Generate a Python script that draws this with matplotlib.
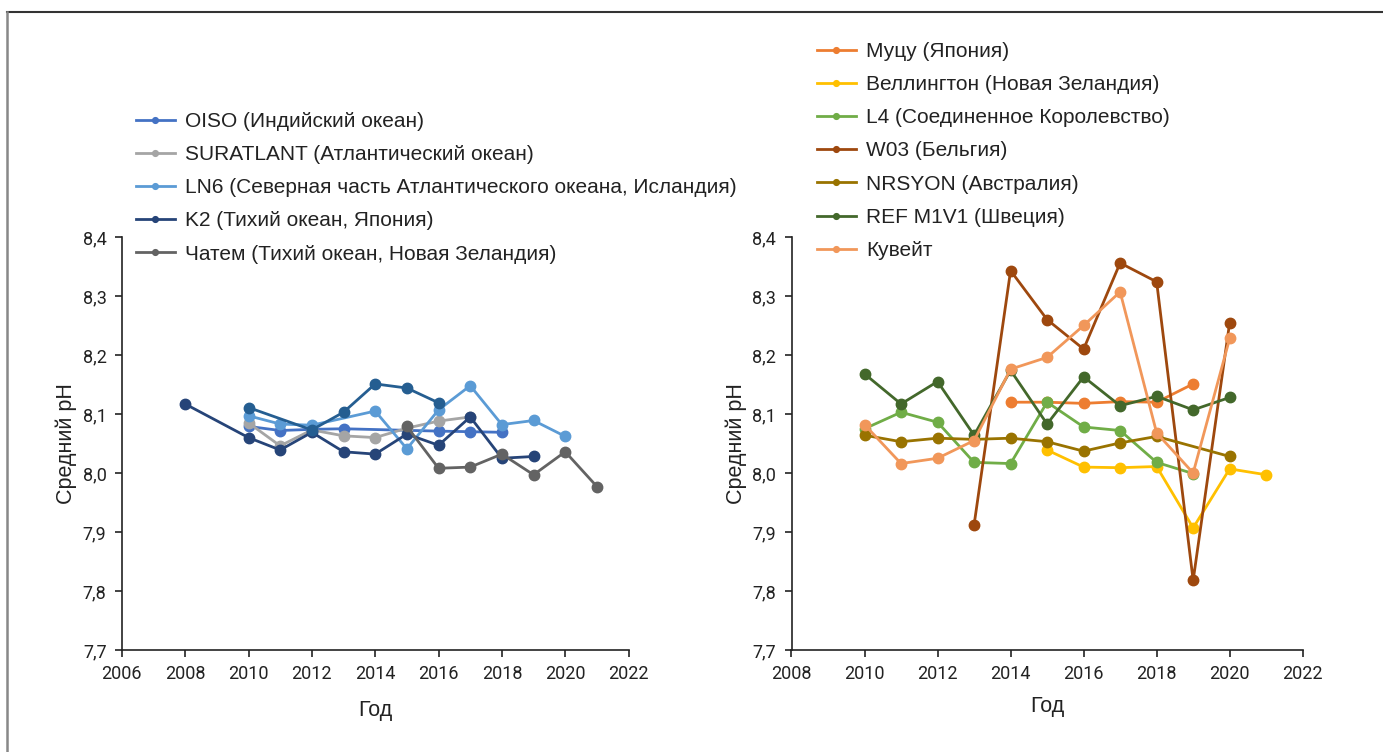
import matplotlib
matplotlib.use('Agg')
import matplotlib.pyplot as plt
from matplotlib import font_manager
from matplotlib.lines import Line2D

# --- данные слева (океанские станции) ---
oiso_years = [2010, 2011, 2012, 2013, 2016, 2017, 2018]
oiso_ph = [8.079, 8.072, 8.074, 8.075, 8.071, 8.070, 8.069]

suratlant_years = [2010, 2011, 2012, 2013, 2014, 2015, 2016, 2017]
suratlant_ph = [8.085, 8.046, 8.073, 8.063, 8.060, 8.076, 8.088, 8.095]

ln6_years = [2010, 2011, 2012, 2014, 2015, 2016, 2017, 2018, 2019, 2020]
ln6_ph = [8.097, 8.083, 8.081, 8.105, 8.041, 8.107, 8.148, 8.082, 8.089, 8.062]

k2_years = [2008, 2010, 2011, 2012, 2013, 2014, 2015, 2016, 2017, 2018, 2019]
k2_ph = [8.117, 8.060, 8.039, 8.069, 8.036, 8.032, 8.066, 8.047, 8.095, 8.025, 8.028]

chatham_years = [2015, 2016, 2017, 2018, 2019, 2020, 2021]
chatham_ph = [8.079, 8.008, 8.010, 8.032, 7.997, 8.036, 7.977]

# ряд без подписи в легенде
extra_years = [2010, 2012, 2013, 2014, 2015, 2016]
extra_ph = [8.111, 8.073, 8.103, 8.151, 8.144, 8.119]

# --- данные справа (прибрежные станции) ---
mutsu_years = [2014, 2015, 2016, 2017, 2018, 2019]
mutsu_ph = [8.120, 8.120, 8.118, 8.121, 8.120, 8.151]

wellington_years = [2015, 2016, 2017, 2018, 2019, 2020, 2021]
wellington_ph = [8.039, 8.010, 8.009, 8.011, 7.907, 8.007, 7.997]

l4_years = [2010, 2011, 2012, 2013, 2014, 2015, 2016, 2017, 2018, 2019]
l4_ph = [8.075, 8.103, 8.086, 8.018, 8.016, 8.120, 8.078, 8.072, 8.018, 7.999]

w03_years = [2013, 2014, 2015, 2016, 2017, 2018, 2019, 2020]
w03_ph = [7.912, 8.343, 8.260, 8.210, 8.356, 8.324, 7.818, 8.255]

nrsyon_years = [2010, 2011, 2012, 2013, 2014, 2015, 2016, 2017, 2018, 2020]
nrsyon_ph = [8.064, 8.053, 8.059, 8.057, 8.059, 8.053, 8.037, 8.051, 8.062, 8.028]

refm1v1_years = [2010, 2011, 2012, 2013, 2014, 2015, 2016, 2017, 2018, 2019, 2020]
refm1v1_ph = [8.168, 8.117, 8.155, 8.064, 8.174, 8.083, 8.163, 8.114, 8.130, 8.107, 8.128]

kuwait_years = [2010, 2011, 2012, 2013, 2014, 2015, 2016, 2017, 2018, 2019, 2020]
kuwait_ph = [8.082, 8.016, 8.025, 8.055, 8.176, 8.196, 8.250, 8.307, 8.068, 8.000, 8.228]

y_ticks = [7.7, 7.8, 7.9, 8.0, 8.1, 8.2, 8.3, 8.4]
y_tick_labels = ['7,7', '7,8', '7,9', '8,0', '8,1', '8,2', '8,3', '8,4']
left_x_ticks = [2006, 2008, 2010, 2012, 2014, 2016, 2018, 2020, 2022]
right_x_ticks = [2008, 2010, 2012, 2014, 2016, 2018, 2020, 2022]

left_series = [
    (oiso_years, oiso_ph, '#4472C4', 'OISO (Индийский океан)'),
    (suratlant_years, suratlant_ph, '#A5A5A5', 'SURATLANT (Атлантический океан)'),
    (ln6_years, ln6_ph, '#5B9BD5', 'LN6 (Северная часть Атлантического океана, Исландия)'),
    (k2_years, k2_ph, '#264478', 'K2 (Тихий океан, Япония)'),
    (chatham_years, chatham_ph, '#636363', 'Чатем (Тихий океан, Новая Зеландия)'),
    (extra_years, extra_ph, '#255E91', None),
]
right_series = [
    (mutsu_years, mutsu_ph, '#ED7D31', 'Муцу (Япония)'),
    (wellington_years, wellington_ph, '#FFC000', 'Веллингтон (Новая Зеландия)'),
    (l4_years, l4_ph, '#70AD47', 'L4 (Соединенное Королевство)'),
    (w03_years, w03_ph, '#9E480E', 'W03 (Бельгия)'),
    (nrsyon_years, nrsyon_ph, '#997300', 'NRSYON (Австралия)'),
    (refm1v1_years, refm1v1_ph, '#43682B', 'REF M1V1 (Швеция)'),
    (kuwait_years, kuwait_ph, '#F1975A', 'Кувейт'),
]

available = {f.name for f in font_manager.fontManager.ttflist}
tick_font = 'Liberation Sans Narrow' if 'Liberation Sans Narrow' in available else 'Roboto'
text_font = ['Liberation Sans', 'DejaVu Sans']

W, H = 1383, 752
fig = plt.figure(figsize=(W / 100, H / 100), dpi=100)
fig.patch.set_facecolor('white')

# рамка сверху и слева
fig.add_artist(Line2D([7 / W, 1], [1 - 12 / H, 1 - 12 / H], color='#333333', lw=1.5))
fig.add_artist(Line2D([7 / W, 7 / W], [0, 1 - 12 / H], color='#888888', lw=1.8))


def make_axes(rect, series, xticks, xlab_pad):
    ax = fig.add_axes(rect)
    for xs, ys, c, lab in series:
        ax.plot(xs, ys, '-o', color=c, lw=2, ms=7.5, label=lab if lab else '_nolegend_')
    ax.set_xlim(xticks[0], xticks[-1])
    ax.set_ylim(7.7, 8.4)
    ax.set_xticks(xticks)
    ax.set_xticklabels([str(t) for t in xticks], fontfamily=tick_font, fontsize=13, color='#222222')
    ax.set_yticks(y_ticks)
    ax.set_yticklabels(y_tick_labels, fontfamily=tick_font, fontsize=13, color='#222222')
    for s in ['top', 'right']:
        ax.spines[s].set_visible(False)
    for s in ['left', 'bottom']:
        ax.spines[s].set_color('#222222')
        ax.spines[s].set_linewidth(1.2)
    ax.tick_params(direction='out', length=5, width=1.2, color='#222222', pad=6)
    ax.set_xlabel('Год', fontfamily=text_font, fontsize=15.5, color='#222222', labelpad=xlab_pad)
    ax.set_ylabel('Средний pH', fontfamily=text_font, fontsize=15.5, color='#222222', labelpad=4)
    return ax


ax1 = make_axes([121.8 / W, 1 - 650 / H, (628.6 - 121.8) / W, 413 / H], left_series, left_x_ticks, 12)
ax2 = make_axes([791.5 / W, 1 - 650 / H, (1302.7 - 791.5) / W, 413 / H], right_series, right_x_ticks, 9)

leg_kw = dict(loc='upper left', frameon=False, prop={'family': text_font, 'size': 15},
              markerscale=0.55, handlelength=1.85, handletextpad=0.5, labelspacing=0.68,
              borderaxespad=0, borderpad=0)
leg1 = fig.legend(handles=ax1.get_lines()[:5], bbox_to_anchor=(136 / W, 1 - 112 / H), **leg_kw)
leg2 = fig.legend(handles=ax2.get_lines(), bbox_to_anchor=(817 / W, 1 - 42 / H), **leg_kw)
for leg in (leg1, leg2):
    for t in leg.get_texts():
        t.set_color('#222222')

fig.savefig('out.png', dpi=100, facecolor='white')
